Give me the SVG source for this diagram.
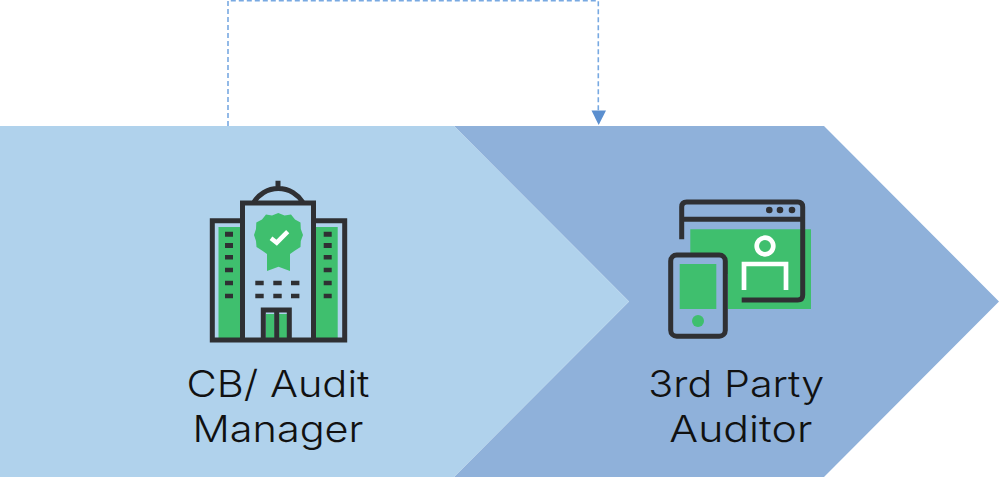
<svg xmlns="http://www.w3.org/2000/svg" width="1000" height="477" viewBox="0 0 1000 477">
<style>
.ink{fill:none;stroke:#2f3033;stroke-width:5}
.win{fill:#2f3033}
.g{fill:#3fbf6e}
.w{fill:none;stroke:#fff;stroke-width:4.700}
.t{font-family:"Inter","Liberation Sans",sans-serif;font-size:37px;font-weight:300;fill:#111;text-anchor:middle}
.d{fill:none;stroke:#78a9e2;stroke-width:1.600;stroke-dasharray:5 3}
</style>
<rect width="1000" height="477" fill="#ffffff"/>
<g id="node-auditor">
<path d="M454 126H824L999 301.500L824 477H454L629 301.500Z" fill="#8fb1da"/>
<path class="g" d="M690.300 229.300H811V309H728V274H690.300Z"/>
<circle class="w" cx="765" cy="246" r="8.300"/>
<path class="w" d="M744 290V264H786V290"/>
<path class="ink" d="M681.700 239.300V207Q681.700 202 686.700 202H797.700Q802.700 202 802.700 207V295Q802.700 300 797.700 300H741.700M681.700 219.300H802.700"/>
<circle class="win" cx="769.300" cy="210" r="3.300"/><circle class="win" cx="780" cy="210" r="3.300"/><circle class="win" cx="792" cy="210" r="3.300"/>
<rect x="670.700" y="255" width="54.600" height="81.300" rx="6" fill="#8fb1da" stroke="#2f3033" stroke-width="5"/>
<rect class="g" x="679.700" y="264" width="36.600" height="45"/>
<circle class="g" cx="698" cy="321" r="6"/>
<text class="t" x="736.300" y="397" textLength="176" lengthAdjust="spacingAndGlyphs">3rd Party</text>
<text class="t" x="740.800" y="442" textLength="143" lengthAdjust="spacingAndGlyphs">Auditor</text>
</g>
<g id="node-cb">
<path d="M0 126H454L629 301.500L454 477H0Z" fill="#b0d2ec"/>
<path class="g" d="M218.500 227H241V338H218.500ZM315.700 227H337.700V338H315.700ZM266 314H274.500V338H266ZM279 314H287.500V338H279Z"/>
<path class="g" d="M278.300 213L284.500 215.500L291 214.500L295 219.500L300.500 222.500L300.800 229L303 235L300.800 241L300.500 247L295 250.500L290 254V271L278.500 266.700L267 271V254L262 250.500L256.500 247L256 241L254 235L256 229L256.300 222.500L262 219.500L266 214.500L272 215.500Z"/>
<path d="M271 238.300L276.700 242.700L287.700 231.700" fill="none" stroke="#fff" stroke-width="4.500"/>
<path class="ink" d="M242.500 220.700H212.300V340H344.700V220.700H313.500M242.500 340V203H313.500V340M263.300 340V310H289.300V340M276.700 310V340"/>
<path class="ink" d="M254 202A28.600 28.600 0 0 1 302.600 202M278 180.700V187"/>
<path class="win" d="M225 231.700h8v5h-8zM225 243h8v5h-8zM225 255h8v4.500h-8zM225 267.700h8v4.500h-8zM225 280.700h8v4.500h-8zM225 293.700h8v4.500h-8zM323.700 231.700h8v5h-8zM323.700 243h8v5h-8zM323.700 255h8v4.500h-8zM323.700 267.700h8v4.500h-8zM323.700 280.700h8v4.500h-8zM323.700 293.700h8v4.500h-8zM255.300 280.700h8.400v4.500h-8.400zM273.300 280.700h8.400v4.500h-8.400zM291 280.700h8.400v4.500h-8.400zM255.300 293.700h8.400v4.500h-8.400zM273.300 293.700h8.400v4.500h-8.400zM291 293.700h8.400v4.500h-8.400z"/>
<text class="t" x="278" y="397" textLength="183" lengthAdjust="spacingAndGlyphs">CB/ Audit</text>
<text class="t" x="278" y="442" textLength="171" lengthAdjust="spacingAndGlyphs">Manager</text>
</g>
<g id="connectors">
<path class="d" d="M228 126V0.800H598.300V112"/>
<path d="M591.500 110.500H606L598.700 125Z" fill="#5b8fcf"/>
</g>
</svg>
